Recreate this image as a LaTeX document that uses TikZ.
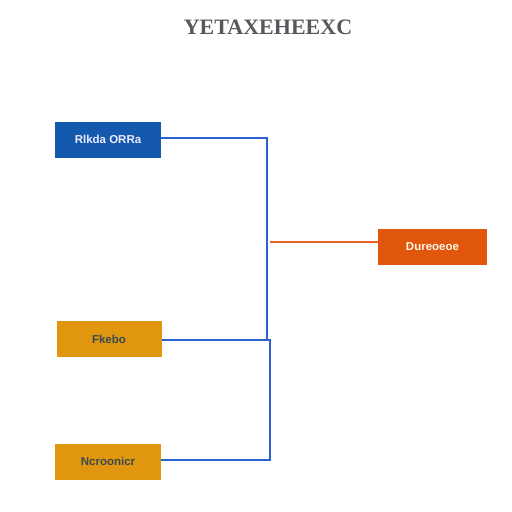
\documentclass[tikz,border=0pt]{standalone}
\usepackage{fontspec}
\setmainfont{Liberation Sans}
\newfontfamily\titlefont{Liberation Serif}
\definecolor{bluebox}{HTML}{1459AE}
\definecolor{blueline}{HTML}{2A63D0}
\definecolor{orangebox}{HTML}{E0560C}
\definecolor{orangeline}{HTML}{E8622A}
\definecolor{yellowbox}{HTML}{E0960F}
\definecolor{titlegray}{HTML}{55585C}
\definecolor{darktext}{HTML}{3A4A50}
\begin{document}
\begin{tikzpicture}[x=1pt,y=-1pt,
  box/.style={draw=none,minimum height=36pt,inner sep=0pt,font=\fontsize{11.5}{12}\selectfont\bfseries},
  bluestyle/.style={box,fill=bluebox,text=white!92!blue,minimum width=106pt},
  orangestyle/.style={box,fill=orangebox,text=white!92!orange,minimum width=109pt},
  yellowstyle/.style={box,fill=yellowbox,text=darktext,minimum width=105pt},
  conn/.style={draw=blueline,line width=1.8pt},
  oconn/.style={draw=orangeline,line width=2pt}]
\useasboundingbox[fill=white] (0,0) rectangle (512,512);
\node[font=\titlefont\fontsize{22}{24}\selectfont\bfseries,text=titlegray] (title) at (268,27) {YETAXEHEEXC};
\node[bluestyle] (b1) at (108,139.5) {Rlkda ORRa};
\node[orangestyle] (o1) at (432.5,246.5) {Dureoeoe};
\node[yellowstyle] (y1) at (109,339) {Fkebo};
\node[yellowstyle,minimum width=106pt] (y2) at (108,461.5) {Ncroonicr};
\coordinate (j1) at (267,138);
\coordinate (j2) at (267,340);
\coordinate (j3) at (270,340);
\coordinate (j4) at (270,460);
\coordinate (oj) at (270,242);
\draw[conn] (b1.east |- j1) -- (j1) -- (j2);
\draw[conn] (y1.east |- j3) -- (j3) -- (j4) -- (y2.east |- j4);
\draw[oconn] (oj) -- (o1.west |- oj);
\end{tikzpicture}
\end{document}
